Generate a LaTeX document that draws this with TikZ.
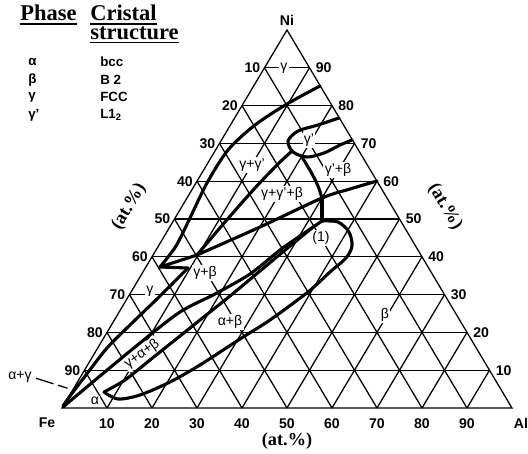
\documentclass[tikz,border=0pt]{standalone}
\usepackage{fontspec}
\setmainfont{Liberation Serif}
\setsansfont{Liberation Sans}
\usetikzlibrary{positioning}

\begin{document}
\begin{tikzpicture}[
  x=0.025cm, y=-0.025cm,
  gridline/.style={line width=0.9pt},
  phase/.style={line width=2.2pt, line join=round, line cap=round},
  num/.style={font=\sffamily\bfseries\fontsize{10}{12}\selectfont, inner sep=0pt},
  field/.style={font=\sffamily\fontsize{10}{12}\selectfont, fill=white, inner sep=1pt},
  head/.style={font=\rmfamily\bfseries\fontsize{16}{18}\selectfont, inner sep=0pt, anchor=west},
  entry/.style={font=\sffamily\bfseries\fontsize{9.5}{11}\selectfont, inner sep=0pt, anchor=west},
  atp/.style={font=\rmfamily\bfseries\fontsize{13}{15}\selectfont, inner sep=0pt}
]
\useasboundingbox (0,0) rectangle (528,454);

% Table of phases
\node[head] (ph) at (20,13) {Phase};
\node[head] (cr) at (90,13) {Cristal};
\node[head] (st) at (90,33) {structure};
\draw[line width=1pt] ([yshift=-2pt]ph.south west) -- ([yshift=-2pt]ph.south east);
\draw[line width=1pt] ([yshift=-2pt]cr.south west) -- ([yshift=-2pt]cr.south east);
\draw[line width=1pt] ([yshift=-2pt]st.south west) -- ([yshift=-2pt]st.south east);

\node[entry] (pa) at (28,62) {α};
\node[entry] (pb) at (28,80) {β};
\node[entry] (pg) at (28,97) {γ};
\node[entry] (pgp) at (28,115) {γ'};
\node[entry] (sa) at (100,62) {bcc};
\node[entry] (sb) at (100,80) {B 2};
\node[entry] (sg) at (100,97) {FCC};
\node[entry] (sgp) at (100,115) {L1\textsubscript{2}};

% Corners of the triangle
\coordinate (Fe) at (62,408);
\coordinate (Al) at (512,408);
\coordinate (Ni) at (287,30);

% 10 at.% grid
\foreach \k in {1,...,9} {
  \draw[gridline] ({62+22.5*\k},{408-37.8*\k}) -- ({512-22.5*\k},{408-37.8*\k});
  \draw[gridline] ({62+45*\k},408) -- ({287+22.5*\k},{408-37.8*(10-\k)});
  \draw[gridline] ({62+45*\k},408) -- ({62+22.5*\k},{408-37.8*\k});
}
\draw[gridline] (Fe) -- (Al) -- (Ni) -- cycle;

% Scale numbers
\foreach \k in {1,...,9} {
  \pgfmathtruncatemacro{\v}{10*\k}
  \pgfmathtruncatemacro{\w}{100-10*\k}
  \node[num, anchor=east] at ({62+22.5*\k-4},{408-37.8*\k}) {\w};
  \node[num, anchor=west] at ({512-22.5*\k+6},{408-37.8*\k}) {\v};
  \node[num] at ({62+45*\k},424) {\v};
}

\node[num] (lni) at (287,20) {Ni};
\node[num] (lfe) at (47,423) {Fe};
\node[num] (lal) at (521,423) {Al};

\node[atp] (atb) at (287,441) {(at.\%)};
\node[atp, rotate=-59] (atr) at (445,207) {(at.\%)};
\node[atp, rotate=59] (atl) at (129,207) {(at.\%)};

% Phase fields
\node[field] (lg1) at (284,68) {γ};
\node[field] (lg2) at (150,291) {γ};
\node[field] (lgp) at (309,140) {γ'};
\node[field] (lggp) at (252,165) {γ+γ'};
\node[field] (lgpb) at (338,170) {γ'+β};
\node[field] (lggpb) at (282,194) {γ+γ'+β};
\node[field] (lgb) at (205,273) {γ+β};
\node[field, rotate=36] (lgab) at (142,354) {γ+α+β};
\node[field] (lab) at (230,322) {α+β};
\node[field] (lb) at (385,315) {β};
\node[field] (la) at (95,401) {α};
\node[field] (l1) at (321,238) {(1)};
\node[field, fill=none, inner sep=0pt] (lag) at (20,377) {α+γ};

% Phase boundaries
\coordinate (tg) at (197,255);
\coordinate (tb) at (322,198);
\coordinate (tip) at (160,267);
\draw[phase] plot[smooth] coordinates {(320,86) (287,104) (255,125) (228,150) (207,183) (190,218) (176,246) (tip)};
\draw[phase] (tg) -- (tip) -- (188,268);
\draw[phase] plot[smooth] coordinates {(188,268) (160,296) (130,325) (107,348) (86,375) (70,396) (63,406)};
\draw[phase] plot[smooth] coordinates {(tg) (225,222) (255,188) (278,164) (292,151)};
\draw[phase] plot[smooth] coordinates {(tg) (260,227) (tb) (350,189) (377,181)};
\draw[phase] plot[smooth] coordinates {(302,157) (311,172) (318,186) (tb)};
\draw[phase] (tb) -- (322,221);
\draw[phase] plot[smooth] coordinates {(339,118) (318,125) (298,131) (288,141) (293,152) (307,157) (324,153) (340,145) (352,140)};

% alpha+beta tongue
\draw[phase] plot[smooth] coordinates {(322,221) (338,222) (349,232) (352,246) (346,258) (330,272) (308,292) (270,320) (240,339) (200,365) (170,382) (140,395) (118,399) (104,392)};
\draw[phase] plot[smooth] coordinates {(322,221) (300,236) (280,250) (250,274) (215,294) (180,312) (140,343) (100,376) (63,407)};
\draw[phase] plot[smooth] coordinates {(312,228) (290,246) (260,271) (230,296) (200,320) (180,336) (150,360) (125,380) (104,392)};

\coordinate (agtip) at (70,389);
\draw[gridline, dash pattern=on 0pt off 3pt on 13pt off 3.5pt on 7pt off 20pt] (lag.east) -- (agtip);

\end{tikzpicture}
\end{document}
